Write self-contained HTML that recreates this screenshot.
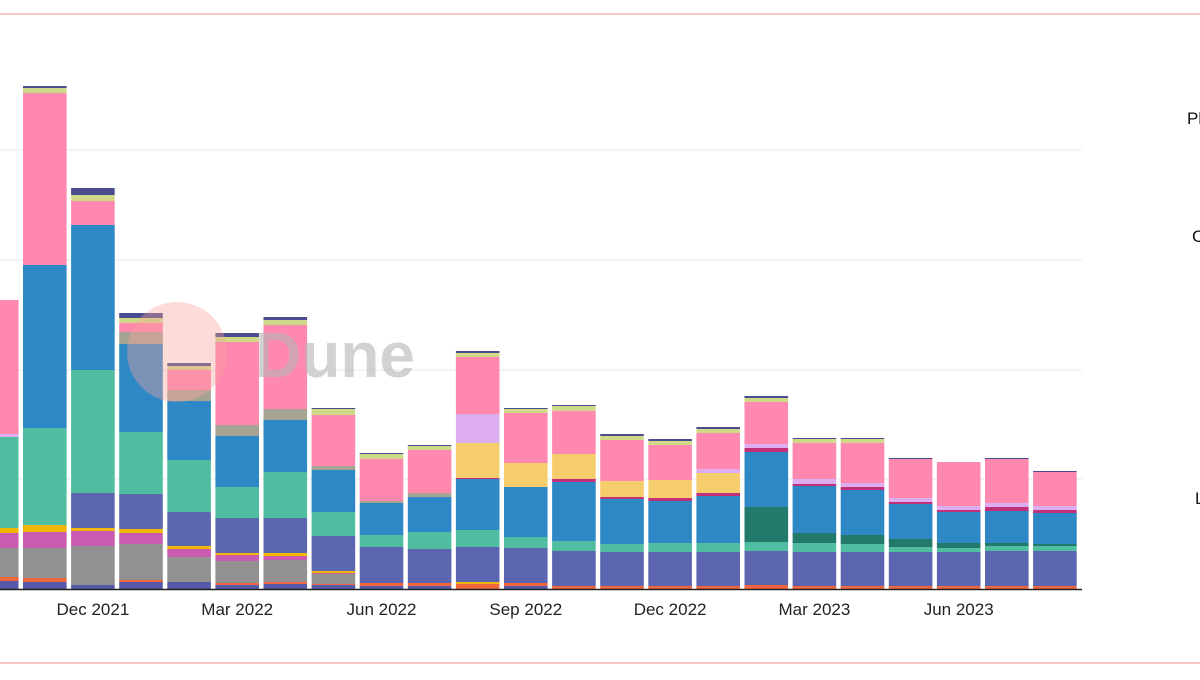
<!DOCTYPE html>
<html><head><meta charset="utf-8">
<style>
html,body{margin:0;padding:0;background:#fff;}
body{width:1200px;height:675px;overflow:hidden;font-family:"Liberation Sans",sans-serif;}
</style></head>
<body>
<svg id="chart" width="1200" height="675" viewBox="0 0 1200 675" xmlns="http://www.w3.org/2000/svg">
  <line x1="0" y1="14" x2="1200" y2="14" stroke="#f3b3b0" stroke-width="1.5"/>
  <line x1="0" y1="663" x2="1200" y2="663" stroke="#f3b3b0" stroke-width="1.5"/>
  <g id="grid"></g>
  <g id="bars"></g>
  <line x1="0" y1="589.5" x2="1082" y2="589.5" stroke="#222" stroke-width="1.5"/>
  <g id="xlabels"></g>
  <g>
    <circle cx="177" cy="352" r="50" fill="#f7a29a" opacity="0.38"/>
    <text x="255" y="377" font-size="64" font-weight="bold" fill="#b5b5b5" opacity="0.6" font-family="Liberation Sans, sans-serif">Dune</text>
  </g>
  <g font-size="17" fill="#111">
    <text x="1187" y="124">Pl</text>
    <text x="1192" y="242">C</text>
    <text x="1195" y="504">L</text>
  </g>
</svg>
<script>
const categories = ["Oct 2021","Nov 2021","Dec 2021","Jan 2022","Feb 2022","Mar 2022","Apr 2022","May 2022","Jun 2022","Jul 2022","Aug 2022","Sep 2022","Oct 2022","Nov 2022","Dec 2022","Jan 2023","Feb 2023","Mar 2023","Apr 2023","May 2023","Jun 2023","Jul 2023","Aug 2023"];
const tickLabels = ["Dec 2021","Mar 2022","Jun 2022","Sep 2022","Dec 2022","Mar 2023","Jun 2023"];
const gridValues = [110, 219, 329, 439];
const seriesNames = ["navy","orange","gray","magenta","yellow","indigo","teal","darkgreen","blue","crimson","lightyellow","lavender","tan","pink","lime","darknavy"];
const seriesColors = ["#5559a8","#ef6540","#919191","#c95bb0","#f2b705","#5c65b0","#50bda0","#23796b","#2e88c5","#c2307a","#f6cd6d","#dcaef0","#a6a393","#ff88ae","#cfd987","#4a4d8e"];
const sNavy = [8,7,4,7,7,4,5,4,3,3,0,3,0,0,0,0,0,0,0,0,0,0,0];
const sOrange = [4,4,0,2,0,2,2,1,3,3,5,3,3,3,3,3,4,3,3,3,3,3,3];
const sGray = [29,30,39,36,25,22,22,10,0,0,0,0,0,0,0,0,0,0,0,0,0,0,0];
const sMagenta = [15,16,15,11,8,6,4,1,0,0,0,0,0,0,0,0,0,0,0,0,0,0,0];
const sYellow = [5,7,3,4,3,2,3,2,0,0,2,0,0,0,0,0,0,0,0,0,0,0,0];
const sIndigo = [0,0,35,35,34,35,35,35,36,34,35,35,35,34,34,34,34,34,34,34,34,35,35];
const sTeal = [91,97,123,62,52,31,46,24,12,17,17,11,10,8,9,9,9,9,8,5,4,5,5];
const sDarkGreen = [0,0,0,0,0,0,0,0,0,0,0,0,0,0,0,0,35,10,9,8,5,3,2];
const sBlue = [0,163,145,88,59,51,52,42,32,35,51,50,59,45,42,47,55,47,45,35,31,32,31];
const sCrimson = [0,0,0,0,0,0,0,0,0,0,1,0,3,2,3,3,4,2,3,2,2,4,3];
const sLightYellow = [0,0,0,0,0,0,0,0,0,0,35,24,25,16,18,20,0,0,0,0,0,0,0];
const sLavender = [3,0,0,0,0,0,0,0,0,0,29,0,0,0,0,4,4,5,4,4,4,4,4];
const sTan = [0,0,0,12,11,11,11,4,2,4,0,0,0,0,0,0,0,0,0,0,0,0,0];
const sPink = [134,172,24,9,20,83,84,51,42,43,57,50,43,41,35,36,42,36,40,39,44,44,34];
const sLime = [0,5,6,5,4,5,5,6,5,4,4,4,5,4,4,4,4,4,4,0,0,0,0];
const sDarkNavy = [0,2,7,5,3,4,3,1,1,1,2,1,1,2,2,2,2,1,1,1,0,1,1];
const series = [sNavy,sOrange,sGray,sMagenta,sYellow,sIndigo,sTeal,sDarkGreen,sBlue,sCrimson,sLightYellow,sLavender,sTan,sPink,sLime,sDarkNavy];

const NS = "http://www.w3.org/2000/svg";
const baseY = 589, pitch = 48.1, x0 = -25.1, bw = 43.6;
function yScale(v){ return baseY - v; }
function xScale(i){ return x0 + i * pitch; }

const grid = document.getElementById('grid');
gridValues.forEach(function(g){
  const l = document.createElementNS(NS,'line');
  
  
  l.setAttribute('x1',0); l.setAttribute('x2',1082);
  l.setAttribute('y1',yScale(g)); l.setAttribute('y2',yScale(g));
  l.setAttribute('stroke','#e8e8e8'); l.setAttribute('stroke-width','1');
  grid.appendChild(l);
});

const bars = document.getElementById('bars');
categories.forEach(function(c,i){
  let acc = 0;
  series.forEach(function(s,k){
    const v = s[i];
    if(!v) return;
    const r = document.createElementNS(NS,'rect');
    
    
    r.setAttribute('x', xScale(i));
    r.setAttribute('width', bw);
    r.setAttribute('y', yScale(acc + v));
    r.setAttribute('height', v);
    r.setAttribute('fill', seriesColors[k]);
    const t = document.createElementNS(NS,'title');
    t.textContent = c + ' ' + seriesNames[k] + ': ' + v;
    r.appendChild(t);
    bars.appendChild(r);
    acc += v;
  });
});

const xl = document.getElementById('xlabels');
tickLabels.forEach(function(lab){
  const i = categories.indexOf(lab);
  const t = document.createElementNS(NS,'text');
  
  
  t.setAttribute('x', xScale(i) + bw/2);
  t.setAttribute('y', 615);
  t.setAttribute('text-anchor','middle');
  t.setAttribute('font-size','17');
  t.setAttribute('fill','#222');
  t.textContent = lab;
  xl.appendChild(t);
});
</script>
</body></html>
